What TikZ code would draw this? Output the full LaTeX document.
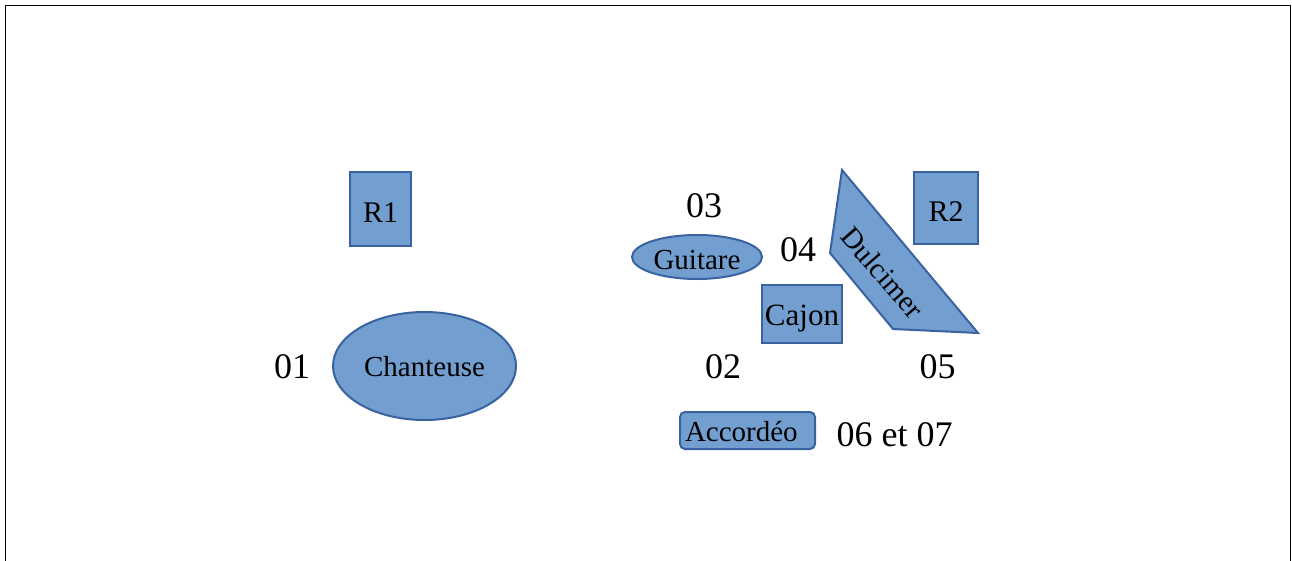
\documentclass[tikz,border=0pt]{standalone}
\usepackage{fontspec}
\setmainfont{Liberation Serif}
\usetikzlibrary{shapes.geometric}
\definecolor{shfill}{RGB}{114,159,207}
\definecolor{shdraw}{RGB}{56,98,160}
\begin{document}
\begin{tikzpicture}[x=1pt,y=-1pt,
  shp/.style={draw=shdraw, fill=shfill, line width=2pt, inner sep=0pt,
    text depth=0pt, font=\fontsize{29}{31}\selectfont},
  boxshp/.style={shp, rectangle},
  ellshp/.style={shp, ellipse},
  lbl/.style={font=\fontsize{36}{38}\selectfont, inner sep=0pt, anchor=base}]
\useasboundingbox (0,0) rectangle (1292,561);
\draw[line width=1.3pt] (5.5,561) -- (5.5,5.5) -- (1290.5,5.5) -- (1290.5,561);

% shapes
\node[boxshp, minimum width=61pt, minimum height=74pt, text height=26.6pt,
  font=\fontsize{30}{32}\selectfont] (r1) at (380.5,209) {R1};
\node[boxshp, minimum width=64pt, minimum height=72pt, text height=26.6pt,
  font=\fontsize{30}{32}\selectfont] (r2) at (946,208) {R2};
\node[ellshp, minimum width=183pt, minimum height=108pt, text height=20pt] (chant) at (424.5,366) {Chanteuse};
\node[ellshp, minimum width=130pt, minimum height=44pt, text height=24.6pt] (guit) at (697,257) {Guitare};
\node[boxshp, minimum width=80pt, minimum height=58pt, text height=23.4pt,
  font=\fontsize{31}{33}\selectfont] (cajon) at (802,314) {Cajon};
\node[boxshp, rounded corners=5pt, minimum width=135pt, minimum height=37pt,
  text height=22.4pt, text width=125pt, align=left, inner xsep=5pt] (acc) at (747.5,430.5) {Accordéo};
\draw[shp] (842,170) -- (978,333) -- (893,329) -- (830,253) -- cycle;
\node[inner sep=0pt, font=\fontsize{29}{31}\selectfont, rotate=-49] (dulc) at (882.5,272.5) {Dulcimer};

% labels
\node[lbl] (l01) at (292.2,378.3) {01};
\node[lbl] (l02) at (723,378.3) {02};
\node[lbl] (l03) at (704,217.3) {03};
\node[lbl] (l04) at (798,261.7) {04};
\node[lbl] (l05) at (937.5,378.3) {05};
\node[lbl] (l0607) at (894.7,446) {06 et 07};
\end{tikzpicture}
\end{document}
